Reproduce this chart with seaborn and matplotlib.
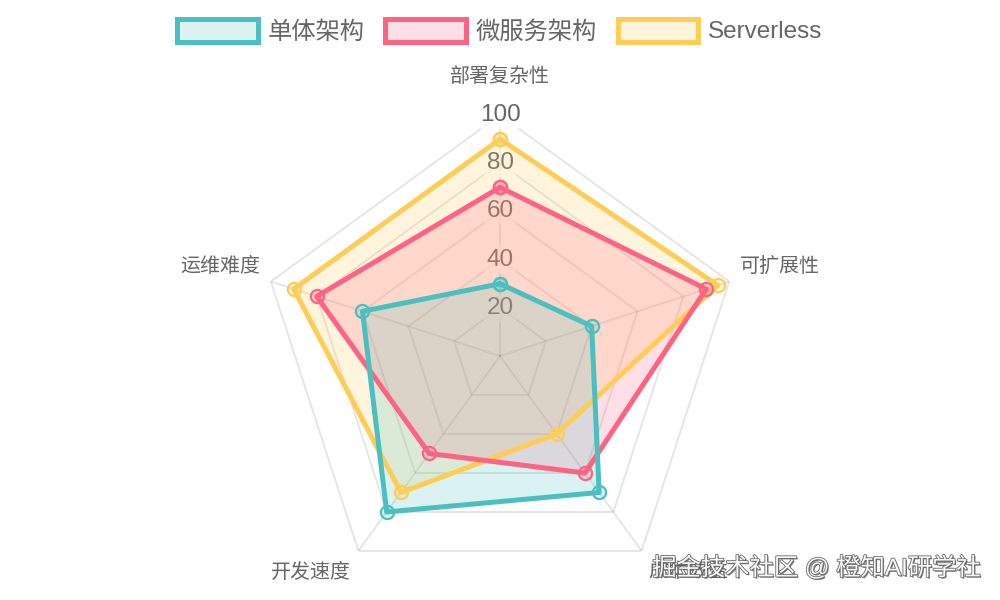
import numpy as np
import pandas as pd
import matplotlib
matplotlib.use("Agg")
import matplotlib.pyplot as plt
import matplotlib.patheffects as pe
from matplotlib.patches import Patch
import seaborn as sns

# ---- data ----
categories = ["部署复杂性", "可扩展性", "成本效益", "开发速度", "运维难度"]
series_names = ["单体架构", "微服务架构", "Serverless"]
monolith = [30, 40, 70, 80, 60]
microservices = [70, 90, 60, 50, 80]
serverless = [90, 95, 40, 70, 90]
tick_values = [20, 40, 60, 80, 100]
watermark = "掘金技术社区 @ 橙知AI研学社"

colors = ["#4BC0C0", "#FF6384", "#FFCD56"]
values = [monolith, microservices, serverless]

sns.set_theme(style="white")
plt.rcParams["font.family"] = ["Liberation Sans", "Noto Sans CJK SC", "DejaVu Sans"]

fig = plt.figure(figsize=(10, 6), dpi=100)
ax = fig.add_axes([0.259, 0.005, 0.482, 0.8033], projection="polar")
ax.set_theta_zero_location("N")
ax.set_theta_direction(-1)
ax.set_ylim(0, 100)
ax.grid(False)
ax.spines["polar"].set_visible(False)
ax.patch.set_alpha(0)

n = len(categories)
angles = np.linspace(0, 2 * np.pi, n, endpoint=False)
closed_angles = np.append(angles, 2 * np.pi)

grid_color = (0, 0, 0, 0.1)
# pentagon rings
for tv in tick_values:
    ax.plot(closed_angles, [tv] * (n + 1), color=grid_color, lw=1.4, zorder=1)
# angle lines
for a in angles:
    ax.plot([a, a], [0, 100], color=grid_color, lw=1.4, zorder=1)

# tick labels
for tv in tick_values:
    ax.text(0, tv, str(tv), ha="center", va="center", fontsize=17.5, color="#666666",
            zorder=2,
            bbox=dict(boxstyle="square,pad=0.12", fc=(1, 1, 1, 0.75), ec="none"))

# datasets: fills first (all), then lines; first dataset on top
for i in reversed(range(len(series_names))):
    vals = values[i]
    closed_vals = list(vals) + [vals[0]]
    c = colors[i]
    z = (len(series_names) - i) * 0.1
    ax.fill(closed_angles, closed_vals, color=c, alpha=0.2, lw=0, zorder=3 + z)

for i in reversed(range(len(series_names))):
    vals = values[i]
    closed_vals = list(vals) + [vals[0]]
    df = pd.DataFrame({"theta": closed_angles, "r": closed_vals})
    c = colors[i]
    z = (len(series_names) - i) * 0.1
    sns.lineplot(data=df, x="theta", y="r", sort=False, estimator=None, ax=ax,
                 color=c, lw=3.6, marker="o", markersize=9.5,
                 markerfacecolor=matplotlib.colors.to_rgba(c, 0.2),
                 markeredgecolor=c, markeredgewidth=1.6, zorder=4 + z)

ax.set_xlabel("")
ax.set_ylabel("")
ax.set_xticks([])
ax.set_yticks([])
ax.set_ylim(0, 100)

# point labels
label_specs = [
    ((0, 39), "center"),
    ((11, 15), "left"),
    ((7, -21), "left"),
    ((-7, -21), "right"),
    ((-11, 15), "right"),
]
for a, lab, (off, ha) in zip(angles, categories, label_specs):
    ax.annotate(lab, xy=(a, 100), xytext=off, textcoords="offset pixels",
                ha=ha, va="center", fontsize=14.4, color="#666666",
                annotation_clip=False, zorder=5)

# legend
handles = [Patch(facecolor=matplotlib.colors.to_rgba(c, 0.2), edgecolor=c, linewidth=3.6)
           for c in colors]
fig.legend(handles, series_names, loc="center", bbox_to_anchor=(0.5, 1 - 31 / 600),
           ncol=3, frameon=False, fontsize=17.5, handlelength=3.3, handleheight=1.1,
           handletextpad=0.42, columnspacing=0.85, labelcolor="#666666")

# watermark
fig.text(0.98, 1 - 568 / 600, watermark, ha="right", va="center", fontsize=17.5,
         color="#f8f8f8", zorder=10,
         path_effects=[pe.withSimplePatchShadow(offset=(1, -1), shadow_rgbFace="#555555", alpha=0.8),
                       pe.Stroke(linewidth=1.2, foreground="#6a6a6a"), pe.Normal()])

fig.savefig("out.png", dpi=100)
